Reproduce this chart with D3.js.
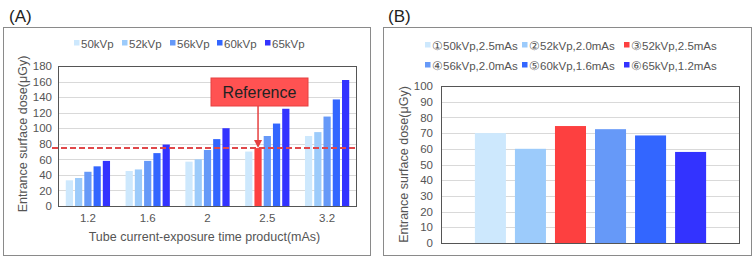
<!DOCTYPE html>
<html><head><meta charset="utf-8">
<script src="https://cdn.jsdelivr.net/npm/d3@7"></script>
<style>body{margin:0;background:#fff;} svg{display:block;font-family:"Liberation Sans",Arial,sans-serif;}</style>
</head><body>
<svg id="c" width="755" height="258"></svg>
<script>
// ---- Panel A data ----
const catsA = ["1.2", "1.6", "2", "2.5", "3.2"];
const seriesA = ["50kVp", "52kVp", "56kVp", "60kVp", "65kVp"];
const v50 = [33, 45, 57, 70, 90];
const v52 = [36, 47, 60, 74.5, 95];
const v56 = [44, 58, 72, 90, 115];
const v60 = [51, 68, 86, 106, 137];
const v65 = [58, 79, 100, 125, 162];
const ticksA = [0, 20, 40, 60, 80, 100, 120, 140, 160, 180];
const refValue = 74.5;
const refCat = "2.5", refSeries = "52kVp";
// ---- Panel B data ----
const seriesB = ["①50kVp,2.5mAs", "②52kVp,2.0mAs", "③52kVp,2.5mAs", "④56kVp,2.0mAs", "⑤60kVp,1.6mAs", "⑥65kVp,1.2mAs"];
const valuesB = [70, 60, 74.5, 72.5, 68.5, 58];
const ticksB = [0, 10, 20, 30, 40, 50, 60, 70, 80, 90, 100];

const colA = ["#cde8fd", "#9ccbfb", "#6699f8", "#3366ff", "#3333ff"];
const colB = ["#cde8fd", "#9ccbfb", "#fd4040", "#6699f8", "#3366ff", "#3333ff"];
const red = "#fd4040";

const svg = d3.select("#c");
const valsA = [v50, v52, v56, v60, v65];

// Panel titles & frames
svg.append("text").attr("x", 9).attr("y", 22).attr("font-size", 17).attr("fill", "#222").text("(A)");
svg.append("text").attr("x", 388).attr("y", 22).attr("font-size", 17).attr("fill", "#222").text("(B)");
svg.append("rect").attr("x", 3.5).attr("y", 27.5).attr("width", 367).attr("height", 228).attr("fill", "none").attr("stroke", "#8a8a8a");
svg.append("rect").attr("x", 383.5).attr("y", 27.5).attr("width", 368).attr("height", 228).attr("fill", "none").attr("stroke", "#8a8a8a");

// ---- Panel A ----
const A = {l: 58, r: 357, t: 66, b: 206};
const yA = d3.scaleLinear().domain([0, 180]).range([A.b, A.t]);
const x0A = d3.scaleBand().domain(catsA).range([A.l, A.r]).paddingInner(0.26).paddingOuter(0.13);
const x1A = d3.scaleBand().domain(seriesA).range([0, x0A.bandwidth()]).paddingInner(0.22);
const gA = svg.append("g");
gA.append("g").selectAll("line").data(ticksA).join("line")
  .attr("x1", A.l).attr("x2", A.r).attr("y1", d => Math.round(yA(d)) + 0.5).attr("y2", d => Math.round(yA(d)) + 0.5)
  .attr("stroke", "#d9d9d9");
catsA.forEach((c, ci) => {
  seriesA.forEach((s, si) => {
    const v = valsA[si][ci];
    gA.append("rect").attr("x", x0A(c) + x1A(s)).attr("y", yA(v)).attr("width", x1A.bandwidth())
      .attr("height", yA(0) - yA(v))
      .attr("fill", (c === refCat && s === refSeries) ? red : colA[si]);
  });
});
gA.append("rect").attr("x", A.l + 0.5).attr("y", A.t + 0.5).attr("width", A.r - A.l - 1).attr("height", A.b - A.t)
  .attr("fill", "none").attr("stroke", "#555");
const axYA = d3.axisLeft(yA).tickValues(ticksA).tickSize(0).tickPadding(6);
gA.append("g").attr("transform", `translate(${A.l},0)`).call(axYA)
  .call(g => g.select(".domain").remove())
  .selectAll("text").attr("font-size", 11.5).attr("fill", "#555").attr("font-family", "Liberation Sans, Arial");
const axXA = d3.axisBottom(x0A).tickSize(0).tickPadding(8);
gA.append("g").attr("transform", `translate(0,${A.b})`).call(axXA)
  .call(g => g.select(".domain").remove())
  .selectAll("text").attr("font-size", 11.5).attr("fill", "#555").attr("font-family", "Liberation Sans, Arial");
gA.append("text").attr("x", (A.l + A.r) / 2 - 3).attr("y", 241).attr("text-anchor", "middle")
  .attr("font-size", 12.5).attr("fill", "#555").text("Tube current-exposure time product(mAs)");
gA.append("text").attr("transform", `translate(27,${(A.t + A.b) / 2 - 2}) rotate(-90)`).attr("text-anchor", "middle")
  .attr("font-size", 12.5).attr("fill", "#555").text("Entrance surface dose(μGy)");
// dashed reference line
gA.append("line").attr("x1", 52).attr("x2", A.r).attr("y1", yA(refValue)).attr("y2", yA(refValue))
  .attr("stroke", "#e0484a").attr("stroke-width", 2).attr("stroke-dasharray", "6,3");
// Reference callout
const refX = x0A(refCat) + x1A(refSeries) + x1A.bandwidth() / 2;
gA.append("rect").attr("x", 211).attr("y", 78).attr("width", 97).attr("height", 28)
  .attr("fill", "#ff5252").attr("stroke", "#e64040");
gA.append("text").attr("x", 259.5).attr("y", 98).attr("text-anchor", "middle").attr("font-size", 16).attr("fill", "#222").text("Reference");
gA.append("line").attr("x1", refX).attr("x2", refX).attr("y1", 106).attr("y2", yA(refValue) - 6)
  .attr("stroke", "#e64040").attr("stroke-width", 1.5);
gA.append("path").attr("d", `M${refX - 4},${yA(refValue) - 8} L${refX + 4},${yA(refValue) - 8} L${refX},${yA(refValue)} Z`).attr("fill", "#e64040");
// legend A
const legAx = [74, 122, 170, 217, 265];
seriesA.forEach((s, i) => {
  gA.append("rect").attr("x", legAx[i]).attr("y", 40).attr("width", 5.5).attr("height", 5.5).attr("fill", colA[i]);
  gA.append("text").attr("x", legAx[i] + 7).attr("y", 47.5).attr("font-size", 11.5).attr("fill", "#555").text(s);
});

// ---- Panel B ----
const B = {l: 441, r: 740, t: 86, b: 243};
const yB = d3.scaleLinear().domain([0, 100]).range([B.b, B.t]);
const x0B = d3.scaleBand().domain([""]).range([B.l, B.r]).paddingInner(0.109).paddingOuter(0.109);
const x1B = d3.scaleBand().domain(seriesB).range([0, x0B.bandwidth()]).paddingInner(0.225).paddingOuter(0.1125);
const gB = svg.append("g");
gB.append("g").selectAll("line").data(ticksB).join("line")
  .attr("x1", B.l).attr("x2", B.r).attr("y1", d => Math.round(yB(d)) + 0.5).attr("y2", d => Math.round(yB(d)) + 0.5)
  .attr("stroke", "#d9d9d9");
gB.append("g").selectAll("rect").data(seriesB).join("rect")
  .attr("x", d => x0B("") + x1B(d)).attr("y", (d, i) => yB(valuesB[i]))
  .attr("width", x1B.bandwidth()).attr("height", (d, i) => yB(0) - yB(valuesB[i]))
  .attr("fill", (d, i) => colB[i]);
gB.append("rect").attr("x", B.l + 0.5).attr("y", B.t + 0.5).attr("width", B.r - B.l - 1).attr("height", B.b - B.t)
  .attr("fill", "none").attr("stroke", "#555");
gB.append("g").attr("transform", `translate(${B.l},0)`).call(d3.axisLeft(yB).tickValues(ticksB).tickSize(0).tickPadding(8))
  .call(g => g.select(".domain").remove())
  .selectAll("text").attr("font-size", 11.5).attr("fill", "#555").attr("font-family", "Liberation Sans, Arial");
gB.append("text").attr("transform", `translate(408,${(B.t + B.b) / 2}) rotate(-90)`).attr("text-anchor", "middle")
  .attr("font-size", 12.5).attr("fill", "#555").text("Entrance surface dose(μGy)");
const legBx = [425, 522, 624];
seriesB.forEach((s, i) => {
  const x = legBx[i % 3], y = i < 3 ? 42 : 62;
  gB.append("rect").attr("x", x).attr("y", y).attr("width", 5.5).attr("height", 5.5).attr("fill", colB[i]);
  gB.append("text").attr("x", x + 7).attr("y", y + 7.5).attr("font-size", 11.5).attr("fill", "#555").text(s);
});
</script>
</body></html>
